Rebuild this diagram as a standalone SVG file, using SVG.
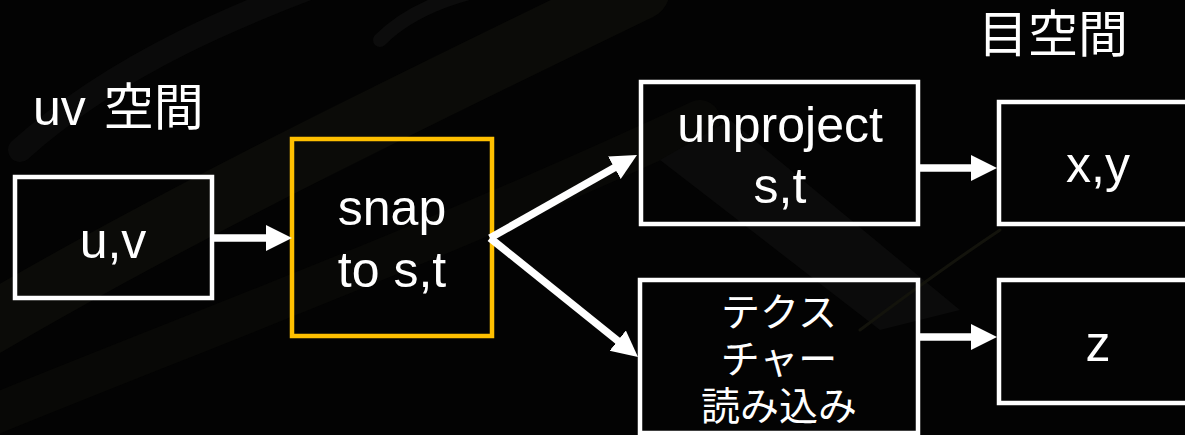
<svg xmlns="http://www.w3.org/2000/svg" width="1185" height="435" viewBox="0 0 1185 435">
  <style>
    .box { fill: none; stroke: #ffffff; stroke-width: 4.5; }
    .hl { fill: none; stroke: #ffc000; stroke-width: 4.5; }
    .lat { font-family: "Liberation Sans", Arial, sans-serif; font-size: 50px; fill: #ffffff; text-anchor: middle; }
    .cjk { font-family: "Liberation Sans", "Noto Sans CJK JP", sans-serif; font-size: 50px; fill: #ffffff; }
    .kana { font-family: "Noto Sans CJK JP", sans-serif; font-size: 39px; fill: #ffffff; text-anchor: middle; }
    .conn { stroke: #ffffff; stroke-width: 7.5; fill: none; marker-end: url(#ah); }
    .sw { fill: none; stroke-linecap: round; }
  </style>
  <defs>
    <marker id="ah" markerUnits="userSpaceOnUse" markerWidth="28" markerHeight="28" viewBox="0 -14 28 28" refX="1" refY="0" orient="auto">
      <path d="M0,-13 L26,0 L0,13 z" fill="#ffffff"/>
    </marker>
  </defs>

  <!-- background -->
  <rect x="0" y="0" width="1185" height="435" fill="#030303"/>
  <g id="background-swooshes">
    <path class="sw" d="M-20,330 C150,230 330,140 640,-10" stroke="#0b0b08" stroke-width="60"/>
    <path class="sw" d="M-20,420 C200,330 420,250 700,120" stroke="#080806" stroke-width="40"/>
    <path class="sw" d="M20,150 C120,60 250,10 330,-20" stroke="#0a0a0a" stroke-width="24"/>
    <path class="sw" d="M380,40 C420,0 480,-10 520,-20" stroke="#0c0c0c" stroke-width="14"/>
    <path d="M660,160 L730,120 L960,310 L880,330 Z" fill="#0b0b0b"/>
    <path class="sw" d="M860,330 C900,300 940,270 1000,230" stroke="#13130c" stroke-width="3"/>
  </g>

  <!-- labels -->
  <text id="label-uv" class="cjk" x="33" y="125" word-spacing="4">uv 空間</text>
  <text id="label-eye" class="cjk" x="1053" y="52" text-anchor="middle">目空間</text>

  <!-- nodes -->
  <g id="node-uv">
    <rect class="box" x="15" y="177" width="197" height="121"/>
    <text class="lat" x="113" y="258">u,v</text>
  </g>
  <g id="node-snap">
    <rect class="hl" x="292" y="139" width="200" height="197"/>
    <text class="lat" x="392" y="225">snap<tspan x="392" y="287">to s,t</tspan></text>
  </g>
  <g id="node-unproject">
    <rect class="box" x="641" y="82" width="277" height="142"/>
    <text class="lat" x="780" y="142">unproject<tspan x="780" y="203">s,t</tspan></text>
  </g>
  <g id="node-texture">
    <rect class="box" x="640" y="280" width="278" height="153"/>
    <text class="kana" x="779" y="326">テクス<tspan x="779" y="373">チャー</tspan><tspan x="779" y="420">読み込み</tspan></text>
  </g>
  <g id="node-xy">
    <rect class="box" x="999" y="102" width="198" height="122"/>
    <text class="lat" x="1098" y="182">x,y</text>
  </g>
  <g id="node-z">
    <rect class="box" x="999" y="280" width="198" height="123"/>
    <text class="lat" x="1098" y="361">z</text>
  </g>

  <!-- connectors -->
  <g id="connectors">
    <line class="conn" x1="213" y1="238" x2="267" y2="238"/>
    <line class="conn" x1="490" y1="238" x2="615.2" y2="167.3"/>
    <line class="conn" x1="490" y1="238" x2="618.5" y2="341.3"/>
    <line class="conn" x1="918" y1="168" x2="972" y2="168"/>
    <line class="conn" x1="918" y1="337" x2="972" y2="337"/>
  </g>
</svg>
